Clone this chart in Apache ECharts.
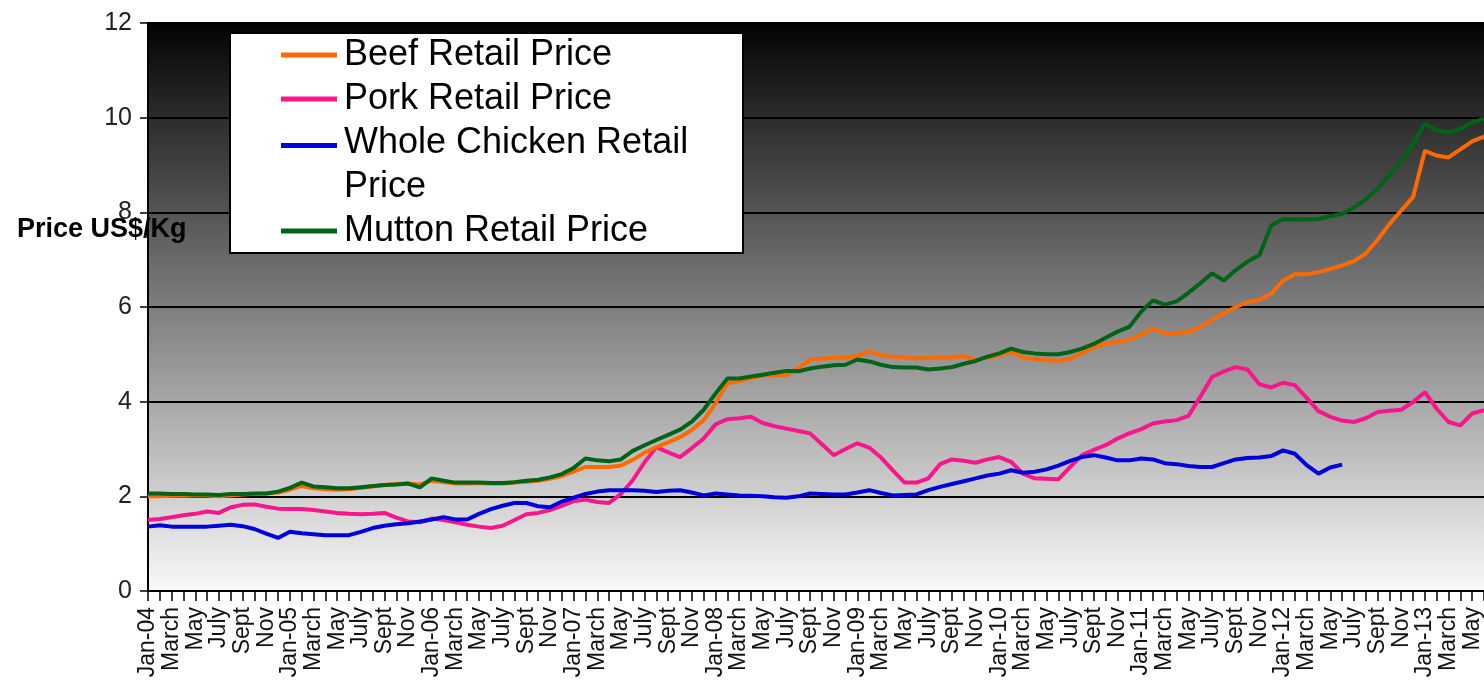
<!DOCTYPE html>
<html>
<head>
<meta charset="utf-8">
<title>Retail meat prices</title>
<script src="https://cdn.jsdelivr.net/npm/echarts@6/dist/echarts.min.js"></script>
<style>
    html, body { margin: 0; padding: 0; background: #fff; }
    #chart { width: 1484px; height: 685px; }
</style>
</head>
<body>
<div id="chart"></div>
<script>
// month labels, Jan-04 .. Jun-13 (every other one is shown)
const monthNames = ['Jan', 'Feb', 'March', 'April', 'May', 'June', 'July', 'Aug', 'Sept', 'Oct', 'Nov', 'Dec']
const years = ['04', '05', '06', '07', '08', '09', '10', '11', '12', '13']
const categories = []
years.forEach(y => {
    monthNames.forEach((m, i) => {
        categories.push(i === 0 ? 'Jan-' + y : m)
    })
})
categories.length = 114

const yTicks = [0, 2, 4, 6, 8, 10, 12]

const beef = [
    2.00, 2.00, 2.01, 2.01, 2.02, 2.02, 2.00, 2.02, 2.04, 2.05, 2.06, 2.08,
    2.14, 2.22, 2.17, 2.15, 2.14, 2.15, 2.18, 2.21, 2.24, 2.26, 2.27, 2.25,
    2.33, 2.30, 2.27, 2.27, 2.28, 2.27, 2.27, 2.29, 2.31, 2.33, 2.37, 2.43,
    2.52, 2.62, 2.62, 2.62, 2.65, 2.77, 2.92, 3.04, 3.14, 3.25, 3.40, 3.61,
    3.96, 4.39, 4.43, 4.50, 4.55, 4.56, 4.56, 4.70, 4.89, 4.91, 4.92, 4.94,
    4.96, 5.07, 4.98, 4.95, 4.94, 4.91, 4.92, 4.93, 4.94, 4.96, 4.89, 4.93,
    4.98, 5.05, 4.93, 4.90, 4.88, 4.86, 4.91, 5.02, 5.15, 5.22, 5.27, 5.30,
    5.42, 5.54, 5.44, 5.45, 5.47, 5.58, 5.72, 5.87, 6.00, 6.10, 6.15, 6.28,
    6.56, 6.69, 6.69, 6.74, 6.80, 6.88, 6.97, 7.13, 7.42, 7.75, 8.04, 8.32,
    9.30, 9.20, 9.16, 9.33, 9.50, 9.60
]

const pork = [
    1.50, 1.52, 1.56, 1.60, 1.63, 1.68, 1.65, 1.77, 1.82, 1.83, 1.78, 1.74,
    1.73, 1.73, 1.71, 1.68, 1.65, 1.63, 1.62, 1.63, 1.65, 1.55, 1.47, 1.45,
    1.53, 1.50, 1.45, 1.40, 1.36, 1.33, 1.38, 1.50, 1.62, 1.65, 1.71, 1.80,
    1.90, 1.93, 1.88, 1.86, 2.05, 2.34, 2.72, 3.04, 2.93, 2.83, 3.02, 3.22,
    3.52, 3.63, 3.65, 3.68, 3.55, 3.48, 3.43, 3.38, 3.33, 3.10, 2.87, 3.00,
    3.12, 3.03, 2.82, 2.55, 2.29, 2.29, 2.38, 2.68, 2.78, 2.75, 2.71, 2.78,
    2.83, 2.73, 2.48, 2.38, 2.37, 2.36, 2.62, 2.87, 2.98, 3.08, 3.22, 3.33,
    3.42, 3.54, 3.58, 3.61, 3.70, 4.10, 4.52, 4.64, 4.73, 4.68, 4.37, 4.30,
    4.40, 4.35, 4.08, 3.80, 3.68, 3.60, 3.57, 3.65, 3.78, 3.81, 3.83, 3.99,
    4.20, 3.85, 3.57, 3.50, 3.75, 3.82
]

const chicken = [
    1.36, 1.39, 1.36, 1.36, 1.36, 1.36, 1.38, 1.40, 1.37, 1.31, 1.21, 1.12,
    1.25, 1.22, 1.20, 1.18, 1.18, 1.18, 1.25, 1.33, 1.38, 1.41, 1.43, 1.47,
    1.51, 1.56, 1.51, 1.51, 1.63, 1.73, 1.80, 1.86, 1.86, 1.79, 1.77, 1.89,
    1.97, 2.05, 2.10, 2.13, 2.13, 2.13, 2.12, 2.09, 2.12, 2.13, 2.08, 2.02,
    2.06, 2.04, 2.02, 2.01, 2.00, 1.98, 1.97, 2.00, 2.06, 2.05, 2.04, 2.04,
    2.08, 2.13, 2.07, 2.02, 2.03, 2.04, 2.13, 2.20, 2.26, 2.32, 2.38, 2.44,
    2.48, 2.55, 2.50, 2.52, 2.57, 2.65, 2.75, 2.83, 2.87, 2.82, 2.76, 2.76,
    2.80, 2.78, 2.70, 2.68, 2.64, 2.62, 2.62, 2.70, 2.78, 2.81, 2.82, 2.85,
    2.97, 2.90, 2.66, 2.48, 2.61, 2.67
]

const mutton = [
    2.06, 2.06, 2.05, 2.05, 2.04, 2.04, 2.03, 2.05, 2.05, 2.06, 2.06, 2.10,
    2.18, 2.29, 2.21, 2.19, 2.17, 2.17, 2.19, 2.22, 2.24, 2.25, 2.27, 2.19,
    2.38, 2.33, 2.29, 2.29, 2.29, 2.28, 2.28, 2.30, 2.33, 2.35, 2.40, 2.47,
    2.60, 2.80, 2.76, 2.74, 2.78, 2.96, 3.08, 3.19, 3.30, 3.41, 3.58, 3.83,
    4.17, 4.49, 4.49, 4.53, 4.57, 4.61, 4.65, 4.64, 4.70, 4.74, 4.77, 4.78,
    4.89, 4.85, 4.78, 4.73, 4.72, 4.72, 4.68, 4.70, 4.73, 4.80, 4.86, 4.95,
    5.02, 5.12, 5.05, 5.02, 5.00, 5.00, 5.05, 5.12, 5.22, 5.35, 5.48, 5.58,
    5.90, 6.14, 6.05, 6.12, 6.30, 6.50, 6.71, 6.56, 6.78, 6.96, 7.10, 7.72,
    7.86, 7.85, 7.85, 7.86, 7.92, 7.97, 8.10, 8.28, 8.50, 8.78, 9.09, 9.45,
    9.87, 9.73, 9.68, 9.76, 9.90, 9.98
]

const FONT = '"Liberation Sans", Arial, sans-serif'

// legend icons: a flat bar, the chicken one sits on its first text line
const ICON_MID = 'path://M0,19.5L56,19.5L56,24.5L0,24.5Z M0,0L58,0 M0,44L58,44'
const ICON_TOP = 'path://M0,0L56,0L56,5L0,5Z M0,44L58,44'

const chart = echarts.init(document.getElementById('chart'))

const makeLine = (name, data, color) => ({
    name,
    type: 'line',
    data,
    symbol: 'none',
    smooth: false,
    lineStyle: { color, width: 4 },
    itemStyle: { color }
})

const option = {
    animation: false,
    title: {
        text: 'Price US$/Kg',
        left: 12,
        top: 211,
        textStyle: { fontFamily: FONT, fontSize: 27, fontWeight: 'bold', color: '#000' }
    },
    legend: {
        orient: 'vertical',
        left: 230,
        top: 33,
        padding: [0, 34, 0, 51],
        itemGap: 0,
        itemWidth: 58,
        itemHeight: 44,
        backgroundColor: '#fff',
        borderColor: '#000',
        borderWidth: 2,
        itemStyle: { borderWidth: 0 },
        textStyle: {
            fontFamily: FONT,
            fontSize: 36,
            color: '#000',
            lineHeight: 44,
            width: 365,
            overflow: 'break'
        },
        data: [
            { name: 'Beef Retail Price', icon: ICON_MID },
            { name: 'Pork Retail Price', icon: ICON_MID },
            { name: 'Whole Chicken Retail Price', icon: ICON_TOP },
            { name: 'Mutton Retail Price', icon: ICON_MID }
        ]
    },
    grid: {
        left: 148,
        top: 23,
        right: -2,
        bottom: 94,
        show: true,
        borderWidth: 0,
        backgroundColor: new echarts.graphic.LinearGradient(0, 0, 0, 1, [
            { offset: 0, color: '#030303' },
            { offset: 1, color: '#f9f9f9' }
        ])
    },
    xAxis: {
        type: 'category',
        data: categories,
        boundaryGap: false,
        axisLine: { lineStyle: { color: '#000', width: 2 } },
        axisTick: { interval: 0, length: 10, lineStyle: { color: '#000', width: 1.5 } },
        axisLabel: {
            interval: 1,
            rotate: 90,
            margin: 16,
            showMinLabel: true,
            fontFamily: FONT,
            fontSize: 23,
            color: '#111'
        },
        splitLine: { show: false }
    },
    yAxis: {
        type: 'value',
        min: yTicks[0],
        max: yTicks[yTicks.length - 1],
        interval: 2,
        axisLine: { show: true, lineStyle: { color: '#000', width: 2 } },
        axisTick: { show: true, length: 8, lineStyle: { color: '#000', width: 1.5 } },
        axisLabel: { margin: 16, fontFamily: FONT, fontSize: 25, color: '#222' },
        splitLine: { lineStyle: { color: '#000', width: 2 } }
    },
    series: [
        makeLine('Pork Retail Price', pork, '#f7168c'),
        makeLine('Beef Retail Price', beef, '#ff6a00'),
        makeLine('Whole Chicken Retail Price', chicken, '#0000dc'),
        makeLine('Mutton Retail Price', mutton, '#006416')
    ]
}

chart.setOption(option)
</script>
</body>
</html>
